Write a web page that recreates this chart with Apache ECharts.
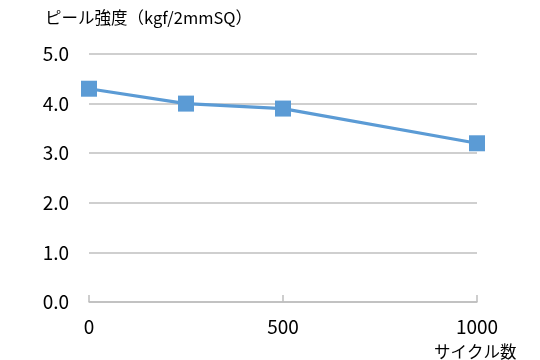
<!DOCTYPE html>
<html><head><meta charset="utf-8">
<script src="https://cdn.jsdelivr.net/npm/echarts@6/dist/echarts.min.js"></script>
<style>html,body{margin:0;padding:0;background:#fff}#c{width:540px;height:360px}</style>
</head><body><div id="c"></div>
<script>
const cycles = [0, 250, 500, 1000];
const peelStrength = [4.3, 4.0, 3.9, 3.2];
const yTitle = 'ピール強度（kgf/2mmSQ）';
const xTitle = 'サイクル数';
const font = '"Noto Sans CJK JP", "Noto Sans", sans-serif';
const chart = echarts.init(document.getElementById('c'));
chart.setOption({
  animation: false,
  textStyle: {fontFamily: font},
  grid: {left: 89, right: 63, top: 54, bottom: 58},
  title: [
    {text: yTitle, left: 40, top: 4, textStyle: {fontSize: 16.5, fontWeight: 'normal', color: '#000', fontFamily: font}},
    {text: xTitle, left: 429, top: 338, textStyle: {fontSize: 16.5, fontWeight: 'normal', color: '#000', fontFamily: font}}
  ],
  xAxis: {
    type: 'value', min: 0, max: 1000, interval: 500,
    axisLine: {show: true, lineStyle: {color: '#bfbfbf', width: 1.5}},
    axisTick: {show: true, inside: true, length: 7, lineStyle: {color: '#bfbfbf', width: 1.5}},
    splitLine: {show: false},
    axisLabel: {fontSize: 19, color: '#000', margin: 15, fontFamily: font, formatter: v => String(v)}
  },
  yAxis: {
    type: 'value', min: 0, max: 5, interval: 1,
    axisLine: {show: false}, axisTick: {show: false},
    splitLine: {lineStyle: {color: '#bfbfbf', width: 1.5}},
    axisLabel: {fontSize: 19, color: '#000', margin: 20, formatter: v => v.toFixed(1), fontFamily: font}
  },
  series: [{
    type: 'line',
    data: cycles.map((c, i) => [c, peelStrength[i]]),
    symbol: 'rect', symbolSize: 16,
    lineStyle: {color: '#5b9bd5', width: 3.2},
    itemStyle: {color: '#5b9bd5'}
  }]
});
</script></body></html>
